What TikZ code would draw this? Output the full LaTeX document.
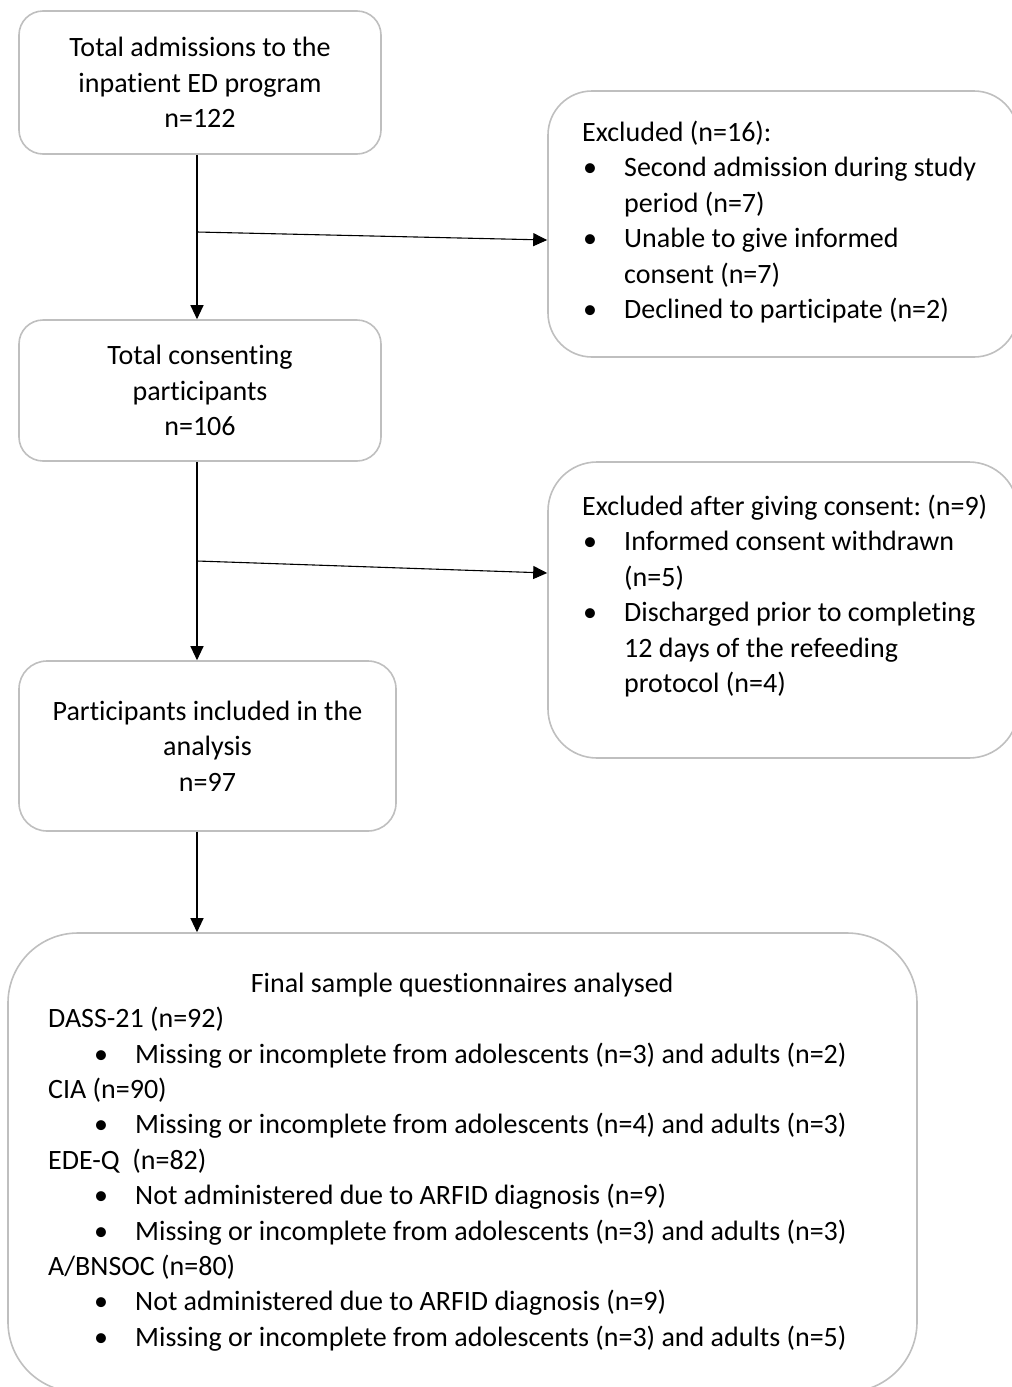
\documentclass[tikz,border=0pt]{standalone}
\usepackage{fontspec}
\setmainfont{Carlito}[Ligatures=NoCommon,RawFeature={-liga;-clig;-calt;-dlig}]
\usetikzlibrary{arrows.meta}
\definecolor{boxgray}{HTML}{BFBFBF}
\frenchspacing
\newcommand{\mybul}{\makebox[42pt][l]{\hspace{1pt}•}}
\newcommand{\myind}{\hspace*{42pt}}
\newcommand{\mybulb}{\hspace*{46pt}\makebox[41pt][l]{•}}
\begin{document}
\begin{tikzpicture}[x=1pt,y=-1pt,
  box/.style={draw=boxgray, line width=1.6pt, inner sep=0pt},
  conn/.style={line width=1.1pt, -{Triangle[length=14pt,width=13pt]}},
  txt/.style={inner sep=0pt, align=left, font=\fontsize{28}{35.4}\selectfont},
  ctxt/.style={align=center, font=\fontsize{28}{35.4}\selectfont}
]
\useasboundingbox (0,0) rectangle (1012,1387);
\clip (0,0) rectangle (1012,1387);

\node[box, ctxt, rounded corners=24pt, minimum width=362pt, minimum height=143pt] (n1) at (200,82.5)
  {Total admissions to the\\inpatient ED program\\n=122};
\node[box, ctxt, rounded corners=24pt, minimum width=362pt, minimum height=141pt] (n2) at (200,390.5)
  {Total consent\kern0pt ing\\part\kern0pt icipants\\n=106};
\node[box, ctxt, rounded corners=28pt, minimum width=377pt, minimum height=170pt] (n3) at (207.5,746)
  {Part\kern0pt icipants included in the\\analysis\\n=97};

\node[box, rounded corners=44pt, minimum width=470pt, minimum height=266pt] (r1) at (783,224) {};
\node[box, rounded corners=49pt, minimum width=470pt, minimum height=296pt] (r2) at (783,610) {};
\node[box, rounded corners=70pt, minimum width=909pt, minimum height=459pt] (fin) at (462.5,1162.5) {};

\node[txt, anchor=west] (t1) at (582,222)
  {Excluded (n=16):\\
   \mybul Second admission during study\\
   \myind period (n=7)\\
   \mybul Unable to give informed\\
   \myind consent (n=7)\\
   \mybul Declined to part\kern0pt icipate (n=2)};
\node[txt, anchor=west] (t2) at (582,596)
  {Excluded after giving consent: (n=9)\\
   \mybul Informed consent withdrawn\\
   \myind (n=5)\\
   \mybul Discharged prior to complet\kern0pt ing\\
   \myind 12 days of the refeeding\\
   \myind protocol (n=4)};
\node[txt, anchor=west] (t3) at (48,1162)
  {\makebox[828pt][c]{Final sample questionnaires analysed}\\
   DASS-21 (n=92)\\
   \mybulb Missing or incomplete from adolescents (n=3) and adults (n=2)\\
   CIA (n=90)\\
   \mybulb Missing or incomplete from adolescents (n=4) and adults (n=3)\\
   EDE-Q\ \ (n=82)\\
   \mybulb Not administered due to ARFID diagnosis (n=9)\\
   \mybulb Missing or incomplete from adolescents (n=3) and adults (n=3)\\
   A/BNSOC (n=80)\\
   \mybulb Not administered due to ARFID diagnosis (n=9)\\
   \mybulb Missing or incomplete from adolescents (n=3) and adults (n=5)};

\coordinate (ax) at (197,0);
\coordinate (j1) at (197,232);
\coordinate (j2) at (197,561);
\draw[conn] (n1.south -| ax) -- (n2.north -| ax);
\draw[conn] (j1) -- ([yshift=-16pt]r1.west);
\draw[conn] (n2.south -| ax) -- (n3.north -| ax);
\draw[conn] (j2) -- ([yshift=37pt]r2.west);
\draw[conn] (n3.south -| ax) -- (fin.north -| ax);
\end{tikzpicture}
\end{document}
